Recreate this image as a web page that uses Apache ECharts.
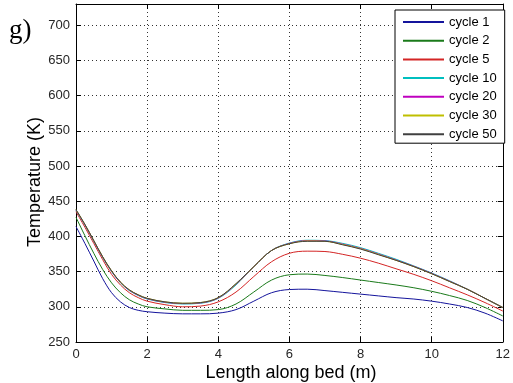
<!DOCTYPE html>
<html>
<head>
<meta charset="utf-8">
<script src="https://cdn.jsdelivr.net/npm/echarts@6/dist/echarts.min.js"></script>
<style>
  html, body { margin: 0; padding: 0; background: #fff; }
  #chart { width: 513px; height: 383px; }
</style>
</head>
<body>
<div id="chart"></div>
<script>
// Bed positions (m) at which the temperature profiles are sampled
const positions = [0, 0.25, 0.5, 0.75, 1, 1.25, 1.5, 1.75, 2, 2.5, 3, 3.5, 4, 4.5, 5, 5.5,
                   6, 6.5, 7, 7.5, 8, 8.5, 9, 9.5, 10, 10.5, 11, 11.5, 12];

// Temperature profiles (K) along the bed after each cycle
const cycle1  = [414, 390, 365, 340, 320, 307, 299, 295, 293, 291, 290, 290, 291, 296, 308, 320,
                 324.5, 325, 323, 320.5, 318, 315.5, 313, 311, 308, 304, 299, 291, 280];
const cycle2  = [427, 401, 376, 353, 334, 320, 310, 304, 300, 297, 295, 295, 296, 304, 321, 338,
                 345.5, 346.5, 344.5, 341.5, 338, 334.5, 331, 327, 322, 316, 309, 299, 287];
const cycle5  = [435, 413, 390, 367, 346, 331, 320, 313, 308, 303, 300, 301, 307, 321, 343, 364,
                 376, 379, 378.5, 374.5, 369, 362, 354, 346, 337, 327, 317, 306, 294];
const cycle10 = [437, 416, 393, 370, 350, 334, 323, 316, 311, 306, 304, 305, 312, 331, 357, 380,
                 390.5, 394.5, 394, 390, 384, 376, 367.5, 358, 348, 337, 325, 312, 299];
const cycle20 = [437.5, 416.5, 393.5, 370.5, 350.5, 334.5, 323.5, 316.5, 311.5, 306.5, 304.5, 305.5, 312.5, 332, 357, 380,
                 390, 394, 393.5, 389, 383, 375, 366.5, 357.5, 347.5, 336.5, 325, 312, 299];
const cycle30 = [438, 417, 394, 371, 351, 335, 324, 317, 312, 307, 305, 306, 313, 332.5, 357, 380,
                 389.5, 393.5, 393, 388.5, 382.5, 374.5, 366, 357, 347, 336, 325, 312, 299];
const cycle50 = [438, 417, 394, 371, 351, 335, 324, 317, 312, 307, 305, 306, 313, 333, 357, 380,
                 389.5, 393, 393, 388, 382, 374, 366, 357, 347, 336, 325, 312, 299];

const seriesNames  = ['cycle 1', 'cycle 2', 'cycle 5', 'cycle 10', 'cycle 20', 'cycle 30', 'cycle 50'];
const seriesValues = [cycle1, cycle2, cycle5, cycle10, cycle20, cycle30, cycle50];
const seriesColors = ['#14149c', '#1a7a1a', '#d42525', '#00bfbf', '#bf00bf', '#bfbf00', '#404040'];

// Axis ranges and tick spacing
const xMin = 0, xMax = 12, xStep = 2;
const yMin = 250, yMax = 730, yStep = 50, yLastLabel = 700;

const labelFont = { fontFamily: 'Liberation Sans, Arial, sans-serif', fontSize: 13, color: '#262626' };
const dotted = { color: '#333', width: 1, type: [1, 3] };

const chart = echarts.init(document.getElementById('chart'), null, { renderer: 'canvas' });

function pairs(vals) {
  return positions.map((x, i) => [x, vals[i]]);
}

const boxAxisLine = { show: true, onZero: false, lineStyle: { color: '#000', width: 1 } };
const insideTick = { show: true, inside: true, length: 5, lineStyle: { color: '#000', width: 1 } };

chart.setOption({
  animation: false,
  backgroundColor: '#fff',
  grid: { left: 76, right: 7, top: 4, bottom: 41, containLabel: false },
  xAxis: [
    {
      type: 'value', min: xMin, max: xMax, interval: xStep, position: 'bottom',
      axisLine: boxAxisLine, axisTick: insideTick,
      axisLabel: Object.assign({ margin: 6 }, labelFont),
      splitLine: { show: true, lineStyle: dotted }
    },
    {
      type: 'value', min: xMin, max: xMax, interval: xStep, position: 'top',
      axisLine: boxAxisLine, axisTick: insideTick,
      axisLabel: { show: false }, splitLine: { show: false }
    }
  ],
  yAxis: [
    {
      type: 'value', min: yMin, max: yMax, interval: yStep, position: 'left',
      axisLine: boxAxisLine, axisTick: insideTick,
      axisLabel: Object.assign({
        margin: 6,
        formatter: v => (v > yLastLabel ? '' : String(v))
      }, labelFont),
      splitLine: { show: true, lineStyle: dotted }
    },
    {
      type: 'value', min: yMin, max: yMax, interval: yStep, position: 'right',
      axisLine: boxAxisLine, axisTick: insideTick,
      axisLabel: { show: false }, splitLine: { show: false }
    }
  ],
  legend: {
    orient: 'vertical',
    left: 395, top: 10,
    padding: [5, 8, 2, 7],
    itemWidth: 41, itemHeight: 1, itemGap: 4.7,
    backgroundColor: '#fff',
    borderColor: '#000', borderWidth: 1, borderRadius: 0,
    textStyle: { fontFamily: 'Liberation Sans, Arial, sans-serif', fontSize: 13, color: '#000', lineHeight: 14 },
    data: seriesNames
  },
  graphic: [
    {
      type: 'text', left: 9, top: 17, silent: true,
      style: { text: 'g)', font: '27px "Liberation Serif", "Times New Roman", serif', fill: '#000' }
    },
    {
      type: 'text', silent: true,
      x: 291, y: 373,
      style: {
        text: 'Length along bed (m)', font: '18px "Liberation Sans", Arial, sans-serif',
        fill: '#000', align: 'center', verticalAlign: 'middle'
      }
    },
    {
      type: 'text', silent: true,
      x: 35, y: 182, rotation: Math.PI / 2,
      style: {
        text: 'Temperature (K)', font: '18px "Liberation Sans", Arial, sans-serif',
        fill: '#000', align: 'center', verticalAlign: 'middle'
      }
    }
  ],
  series: seriesNames.map((name, i) => ({
    name: name,
    type: 'line',
    xAxisIndex: 0, yAxisIndex: 0,
    data: pairs(seriesValues[i]),
    smooth: 0.35,
    symbol: 'none',
    color: seriesColors[i],
    lineStyle: { width: 1, color: seriesColors[i] },
    z: 2 + i
  }))
});
</script>
</body>
</html>
